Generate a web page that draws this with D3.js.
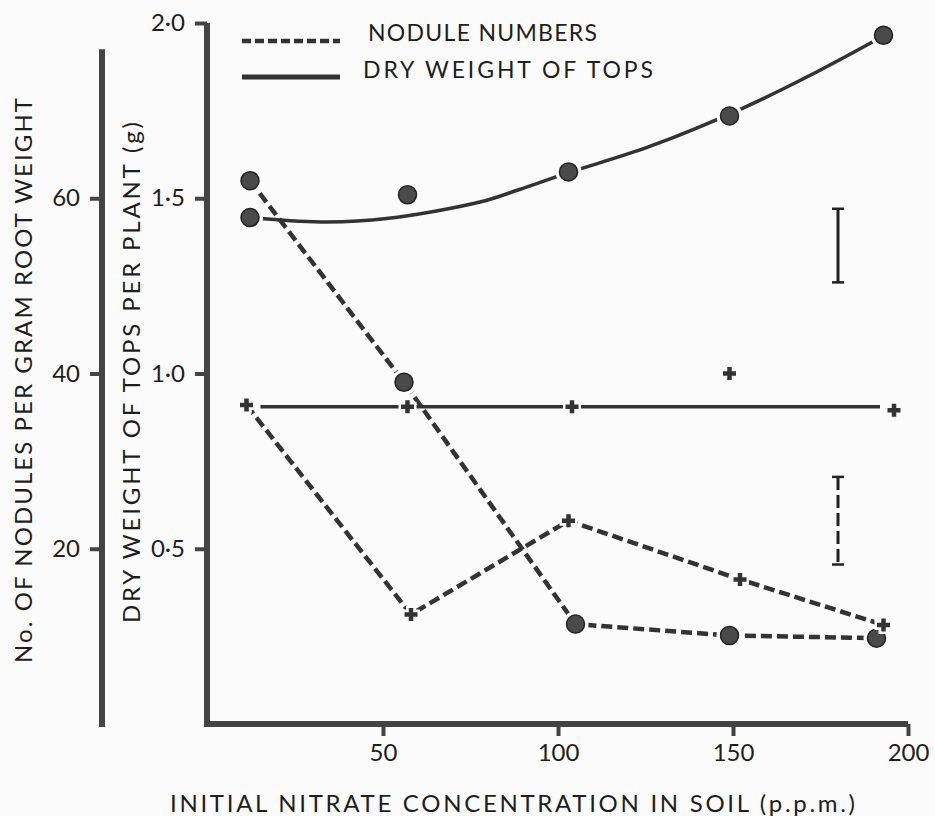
<!DOCTYPE html>
<html>
<head>
<meta charset="utf-8">
<script src="https://cdn.jsdelivr.net/npm/d3@7"></script>
<style>
  html, body { margin: 0; padding: 0; background: #fbfbfb; }
  svg text { font-family: Lato, "Open Sans", sans-serif; fill: #1e1e1e; }
</style>
</head>
<body>
<svg id="chart" width="935" height="816"></svg>
<script>
// values
const topsCircleX = [12, 57, 103, 149, 193];
const topsCircleY = [1.445, 1.51, 1.575, 1.735, 1.965];
const topsCrossX = [11, 57, 104, 149, 196];
const topsCrossY = [0.915, 0.905, 0.905, 1.0, 0.895];
const noduleCircleX = [12, 56, 105, 149, 191];
const noduleCircleY = [62, 39, 11.4, 10.1, 9.8];
const noduleCrossX = [11, 58, 103, 152, 193];
const noduleCrossY = [36.4, 12.5, 23.2, 16.5, 11.3];

// hand-fitted lines for dry weight of tops
const topsCurveX = [15, 34, 51, 78, 89, 103, 126, 153, 175, 191];
const topsCurveY = [1.442, 1.432, 1.442, 1.49, 1.525, 1.573, 1.647, 1.758, 1.866, 1.952];
const topsFlatX = [15, 192];
const topsFlatY = [0.905, 0.905];

// least significant differences
const lsdX = 180;
const lsdTops = [1.26, 1.47];
const lsdNodules = [18.2, 28.2];

const xTicks = [50, 100, 150, 200];
const topsTicks = [0.5, 1.0, 1.5, 2.0];
const noduleTicks = [20, 40, 60];

const svg = d3.select("#chart");
const ink = "#333";

const x = d3.scaleLinear().domain([0, 200]).range([208, 908]);
const yTops = d3.scaleLinear().domain([0, 2]).range([724, 23]);
const yNod = d3.scaleLinear().domain([0, 80]).range([724, 23]);

const zip = (xs, ys) => xs.map((d, i) => [d, ys[i]]);

// left axis (nodules)
const leftAxis = svg.append("g")
  .attr("transform", "translate(102,0)")
  .call(d3.axisLeft(yNod).tickValues(noduleTicks).tickSize(12).tickPadding(10));
leftAxis.select(".domain").remove();
leftAxis.append("line")
  .attr("x1", 0).attr("x2", 0)
  .attr("y1", yNod(77)).attr("y2", yNod(0) + 3)
  .attr("stroke", "#444").attr("stroke-width", 6);

// inner axis (tops)
const innerAxis = svg.append("g")
  .attr("transform", "translate(207,0)")
  .call(d3.axisLeft(yTops).tickValues(topsTicks).tickSize(12).tickPadding(10)
    .tickFormat(d => d3.format(".1f")(d).replace(".", "\u00b7")));
innerAxis.select(".domain").remove();

// x axis
const xAxis = svg.append("g")
  .attr("transform", `translate(0,${yTops(0)})`)
  .call(d3.axisBottom(x).tickValues(xTicks).tickSize(12).tickPadding(8));
xAxis.select(".domain").remove();

svg.selectAll(".tick line").attr("stroke", "#444").attr("stroke-width", 4);
svg.selectAll(".tick text").attr("font-size", 24).attr("fill", "#1e1e1e")
  .style("font-family", "Lato, sans-serif");

svg.append("path")
  .attr("d", `M${x(0) - 1},${yTops(2)} L${x(0) - 1},${yTops(0)} L${x(200)},${yTops(0)}`)
  .attr("fill", "none")
  .attr("stroke", "#444")
  .attr("stroke-width", 6)
  .attr("stroke-linejoin", "miter");

// axis titles
svg.append("text")
  .attr("transform", `translate(32,${(98 + 663) / 2}) rotate(-90)`)
  .attr("text-anchor", "middle")
  .attr("font-size", 24)
  .attr("textLength", 565)
  .attr("lengthAdjust", "spacing")
  .text("No. OF NODULES PER GRAM ROOT WEIGHT");

svg.append("text")
  .attr("transform", `translate(140,${(122 + 623) / 2}) rotate(-90)`)
  .attr("text-anchor", "middle")
  .attr("font-size", 24)
  .attr("textLength", 501)
  .attr("lengthAdjust", "spacing")
  .text("DRY WEIGHT OF TOPS PER PLANT  (g)");

svg.append("text")
  .attr("x", (170 + 855) / 2)
  .attr("y", 812)
  .attr("text-anchor", "middle")
  .attr("font-size", 24)
  .attr("textLength", 685)
  .attr("lengthAdjust", "spacing")
  .text("INITIAL NITRATE CONCENTRATION IN SOIL  (p.p.m.)");

// lines
const line = d3.line().x(d => x(d[0]));

svg.append("path")
  .attr("d", line.y(d => yTops(d[1])).curve(d3.curveCatmullRom)(zip(topsCurveX, topsCurveY)))
  .attr("fill", "none").attr("stroke", ink).attr("stroke-width", 3.5);

svg.append("path")
  .attr("d", line.y(d => yTops(d[1])).curve(d3.curveLinear)(zip(topsFlatX, topsFlatY)))
  .attr("fill", "none").attr("stroke", ink).attr("stroke-width", 3.5);

[zip(noduleCircleX, noduleCircleY), zip(noduleCrossX, noduleCrossY)].forEach(pts => {
  svg.append("path")
    .attr("d", line.y(d => yNod(d[1])).curve(d3.curveLinear)(pts))
    .attr("fill", "none").attr("stroke", ink)
    .attr("stroke-width", 4.5).attr("stroke-dasharray", "11,5");
});

// markers
function drawCircles(pts) {
  const g = svg.append("g");
  g.selectAll("circle.halo").data(pts).join("circle")
    .attr("cx", d => d[0]).attr("cy", d => d[1]).attr("r", 13).attr("fill", "#fbfbfb");
  g.selectAll("circle.dot").data(pts).join("circle")
    .attr("cx", d => d[0]).attr("cy", d => d[1]).attr("r", 9)
    .attr("fill", "#4a4a4a").attr("stroke", "#222").attr("stroke-width", 1.5);
}

function drawCrosses(pts) {
  const g = svg.append("g");
  const plus = s => `M${-s},0H${s}M0,${-s}V${s}`;
  g.selectAll("path.halo").data(pts).join("path")
    .attr("transform", d => `translate(${d[0]},${d[1]})`)
    .attr("d", plus(9)).attr("stroke", "#fbfbfb").attr("stroke-width", 10);
  g.selectAll("path.mark").data(pts).join("path")
    .attr("transform", d => `translate(${d[0]},${d[1]})`)
    .attr("d", plus(6.5)).attr("stroke", ink).attr("stroke-width", 4.5);
}

drawCircles(zip(topsCircleX, topsCircleY).map(d => [x(d[0]), yTops(d[1])]));
drawCircles(zip(noduleCircleX, noduleCircleY).map(d => [x(d[0]), yNod(d[1])]));
drawCrosses(zip(topsCrossX, topsCrossY).map(d => [x(d[0]), yTops(d[1])]));
drawCrosses(zip(noduleCrossX, noduleCrossY).map(d => [x(d[0]), yNod(d[1])]));

// LSD bars
function lsdBar(y0, y1, dashed) {
  const g = svg.append("g").attr("stroke", "#222");
  g.append("line")
    .attr("x1", x(lsdX)).attr("x2", x(lsdX)).attr("y1", y0).attr("y2", y1)
    .attr("stroke-width", 3)
    .attr("stroke-dasharray", dashed ? "13,5" : null);
  [y0, y1].forEach(yy => g.append("line")
    .attr("x1", x(lsdX) - 6).attr("x2", x(lsdX) + 6)
    .attr("y1", yy).attr("y2", yy).attr("stroke-width", 2.5));
}
lsdBar(yTops(lsdTops[1]), yTops(lsdTops[0]), false);
lsdBar(yNod(lsdNodules[1]), yNod(lsdNodules[0]), true);

// legend
const legend = svg.append("g");
legend.append("line")
  .attr("x1", 242).attr("x2", 340).attr("y1", 41).attr("y2", 41)
  .attr("stroke", ink).attr("stroke-width", 4.5).attr("stroke-dasharray", "9,4");
legend.append("line")
  .attr("x1", 242).attr("x2", 340).attr("y1", 77).attr("y2", 77)
  .attr("stroke", ink).attr("stroke-width", 5);
legend.append("text")
  .attr("x", 368).attr("y", 41).attr("font-size", 23)
  .attr("textLength", 229).attr("lengthAdjust", "spacing")
  .text("NODULE NUMBERS");
legend.append("text")
  .attr("x", 363).attr("y", 78).attr("font-size", 23)
  .attr("textLength", 290).attr("lengthAdjust", "spacing")
  .text("DRY WEIGHT OF TOPS");
</script>
</body>
</html>
